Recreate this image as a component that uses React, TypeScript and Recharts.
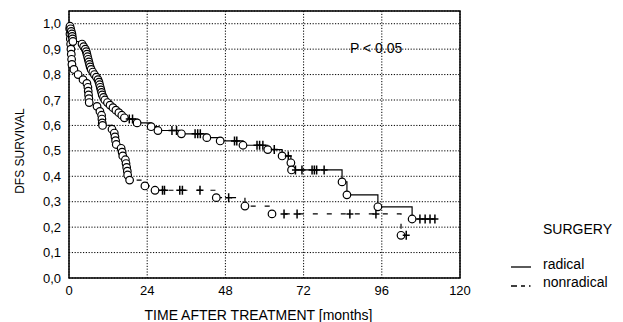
import React from "react"
import { CartesianGrid, Line, LineChart, ReferenceArea, XAxis, YAxis } from "recharts"

// Kaplan-Meier estimates. mark: "o" = event, "+" = censored
const radicalMonths = [
  0, 0.3, 0.5, 0.7, 0.9, 1.0, 1.1, 1.2, 4.0, 4.5, 5.0, 5.3, 5.5, 5.7, 5.9, 6.1, 6.3, 6.5, 6.8, 7.3,
  7.8, 8.4, 8.9, 9.2, 9.4, 9.6, 9.8, 10.0, 10.2, 10.6, 11.0, 11.8, 12.6, 13.5, 14.4, 15.3, 16.2, 17.0,
  18.5, 19.5, 20.9, 25.2, 27.3, 31.6, 33.0, 34.5, 38.7, 39.5, 40.3, 42.3, 46.4, 50.8, 51.5, 53.4,
  57.7, 58.5, 59.5, 61.0, 63.0, 65.4, 67.3, 68.1, 68.3, 69.5, 71.5, 74.6, 75.3, 76.0, 78.3, 83.8,
  85.3, 94.8, 105.3, 107.7, 109.3, 110.8, 112.3,
]
const radicalSurvival = [
  1.0, 0.99, 0.98, 0.97, 0.96, 0.95, 0.94, 0.93, 0.92, 0.91, 0.9, 0.89, 0.88, 0.87, 0.86, 0.85, 0.84,
  0.83, 0.82, 0.81, 0.8, 0.79, 0.78, 0.77, 0.76, 0.75, 0.74, 0.73, 0.72, 0.71, 0.7, 0.69, 0.68, 0.67,
  0.66, 0.65, 0.64, 0.63, 0.625, 0.625, 0.61, 0.595, 0.58, 0.58, 0.58, 0.567, 0.567, 0.567, 0.567,
  0.552, 0.539, 0.539, 0.539, 0.522, 0.522, 0.522, 0.522, 0.505, 0.505, 0.48, 0.48, 0.453, 0.425,
  0.425, 0.425, 0.425, 0.425, 0.425, 0.425, 0.378, 0.327, 0.28, 0.232, 0.232, 0.232, 0.232, 0.232,
]
const radicalMarks = [
  "", "o", "o", "o", "o", "o", "o", "o", "o", "o", "o", "o", "o", "o", "o", "o", "o", "o", "o", "o",
  "o", "o", "o", "o", "o", "o", "o", "o", "o", "o", "o", "o", "o", "o", "o", "o", "o", "o",
  "+", "+", "o", "o", "o", "+", "+", "o", "+", "+", "+", "o", "o", "+", "+", "o",
  "+", "+", "+", "o", "+", "o", "+", "o", "o", "+", "+", "+", "+", "+", "+", "o",
  "o", "o", "o", "+", "+", "+", "+",
]

const nonradicalMonths = [
  0, 0.2, 0.3, 0.4, 0.5, 0.6, 0.7, 0.8, 0.9, 1.5, 2.8, 4.3, 5.5, 5.8, 5.9, 6.0, 6.1, 6.2, 8.6, 9.5,
  10.0, 10.1, 10.2, 10.3, 13.2, 13.9, 14.1, 14.3, 14.5, 16.0, 16.3, 16.5, 17.3, 17.5, 17.7, 17.9, 18.0,
  18.6, 23.3, 26.4, 28.7, 29.3, 34.0, 34.8, 40.2, 45.2, 49.0, 54.0, 62.3, 66.0, 70.0, 86.2, 94.2,
  101.9, 103.5,
]
const nonradicalSurvival = [
  1.0, 0.98, 0.96, 0.94, 0.92, 0.9, 0.88, 0.86, 0.84, 0.82, 0.8, 0.78, 0.765, 0.75, 0.735, 0.72, 0.705,
  0.69, 0.675, 0.655, 0.64, 0.625, 0.61, 0.6, 0.585, 0.57, 0.555, 0.54, 0.525, 0.51, 0.495, 0.48, 0.465,
  0.45, 0.435, 0.42, 0.405, 0.385, 0.362, 0.345, 0.345, 0.345, 0.345, 0.345, 0.345, 0.316, 0.316, 0.283,
  0.252, 0.252, 0.252, 0.252, 0.252, 0.168, 0.168,
]
const nonradicalMarks = [
  "", "o", "o", "o", "o", "o", "o", "o", "o", "o", "o", "o", "o", "o", "o", "o", "o", "o", "o", "o",
  "o", "o", "o", "o", "o", "o", "o", "o", "o", "o", "o", "o", "o", "o", "o", "o", "o",
  "o", "o", "o", "+", "+", "+", "+", "+", "o", "+", "o", "o", "+", "+", "+", "+",
  "o", "+",
]

const xTicks = [0, 24, 48, 72, 96, 120]
const yTicks = [0, 0.1, 0.2, 0.3, 0.4, 0.5, 0.6, 0.7, 0.8, 0.9, 1.0]

const font = '"Liberation Sans", Arial, sans-serif'

const toRows = (months: number[], surv: number[], marks: string[]) =>
  months.map((t, i) => ({ t, s: surv[i], m: marks[i] }))

const radicalData = toRows(radicalMonths, radicalSurvival, radicalMarks)
const nonradicalData = toRows(nonradicalMonths, nonradicalSurvival, nonradicalMarks)

function renderMark(props: any) {
  const { cx, cy, payload, index } = props
  if (cx == null || cy == null) return <g key={`e-${index}`} />
  if (payload.m === "o") {
    return (
      <circle key={`o-${index}`} cx={cx} cy={cy} r={3.8} fill="#fff" stroke="#000" strokeWidth={1.2} strokeDasharray="none" />
    )
  }
  if (payload.m === "+") {
    return (
      <g key={`c-${index}`} stroke="#000" strokeWidth={1.5} strokeDasharray="none">
        <line x1={cx} y1={cy - 4.5} x2={cx} y2={cy + 4.5} />
        <line x1={cx - 3.5} y1={cy} x2={cx + 3.5} y2={cy} />
      </g>
    )
  }
  return <g key={`n-${index}`} />
}

export default function App() {
  return (
    <div style={{ position: "absolute", left: 0, top: 0, width: 623, height: 322, background: "#fff", fontFamily: font }}>
      <LineChart width={623} height={322} margin={{ top: 11, right: 163, bottom: 0, left: 0 }}>
        <CartesianGrid stroke="#000" strokeDasharray="1.2 1.6" strokeWidth={1} />
        <XAxis
          type="number"
          dataKey="t"
          domain={[0, 120]}
          ticks={xTicks}
          height={44}
          axisLine={false}
          tickLine={false}
          tickMargin={2}
          tick={{ fill: "#000", fontSize: 13, fontFamily: font }}
          label={{ value: "TIME AFTER TREATMENT [months]", position: "insideBottom", offset: 2, dx: -6, fill: "#000", fontSize: 14, fontFamily: font }}
        />
        <YAxis
          type="number"
          domain={[0, 1.05]}
          ticks={yTicks}
          width={69}
          allowDataOverflow
          axisLine={false}
          tickLine={false}
          tickMargin={2}
          tick={{ fill: "#000", fontSize: 13, fontFamily: font }}
          tickFormatter={(v: number) => v.toFixed(1).replace(".", ",")}
          label={{
            content: () => (
              <text x={20} y={151} transform="rotate(-90 20 151)" textAnchor="middle" dominantBaseline="central" fill="#000" fontSize={12} fontFamily={font}>
                DFS SURVIVAL
              </text>
            ),
          }}
        />
        <ReferenceArea x1={0} x2={120} y1={0} y2={1.05} fill="none" stroke="#000" strokeWidth={1.5} />
        <Line
          data={nonradicalData}
          dataKey="s"
          type="stepAfter"
          stroke="#000"
          strokeWidth={1.2}
          strokeDasharray="5 9"
          dot={renderMark}
          activeDot={false}
          isAnimationActive={false}
        />
        <Line
          data={radicalData}
          dataKey="s"
          type="stepAfter"
          stroke="#000"
          strokeWidth={1.2}
          dot={renderMark}
          activeDot={false}
          isAnimationActive={false}
        />
      </LineChart>
      <svg width={623} height={322} style={{ position: "absolute", left: 0, top: 0, pointerEvents: "none" }}>
        <g fill="#000" fontSize={14} fontFamily={font} dominantBaseline="central">
          <text x={350} y={48}>P &lt; 0.05</text>
          <text x={543} y={229}>SURGERY</text>
          <text x={543} y={264}>radical</text>
          <text x={543} y={282}>nonradical</text>
        </g>
        <line x1={511} y1={267} x2={531} y2={267} stroke="#000" strokeWidth={1.3} />
        <path d="M511 286 h6 M521 286 h4 M529 286 h1.5" stroke="#000" strokeWidth={1.3} />
      </svg>
    </div>
  )
}
